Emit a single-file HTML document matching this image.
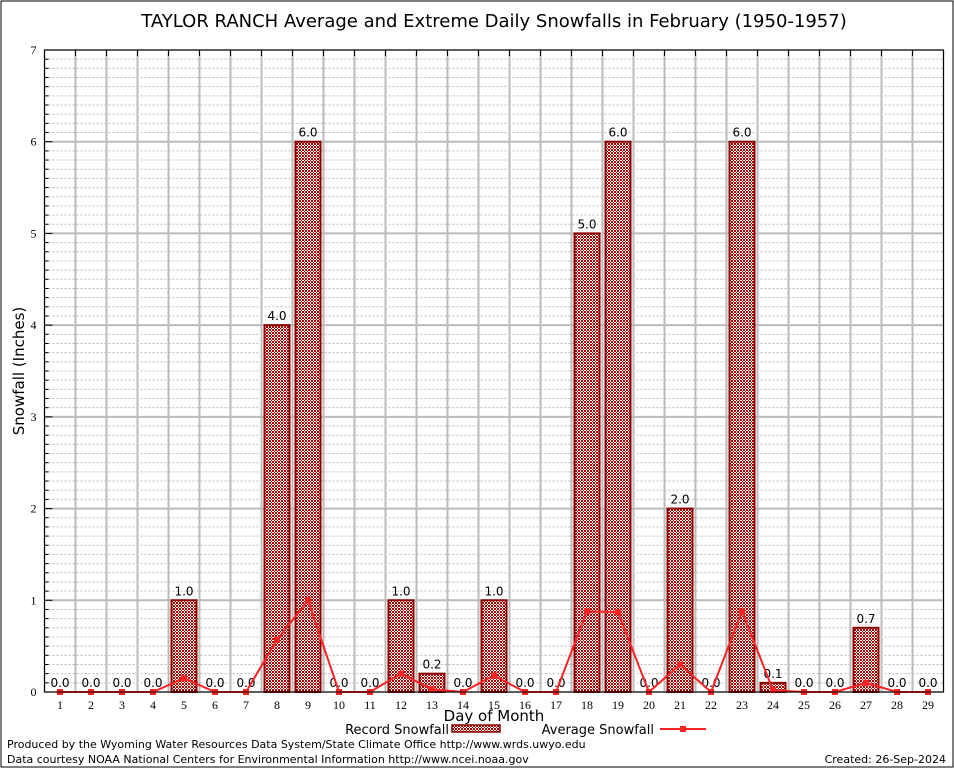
<!DOCTYPE html>
<html><head><meta charset="utf-8"><style>
body{margin:0;background:#fff;}
svg{display:block;font-family:"DejaVu Sans","Liberation Sans",sans-serif;}
</style></head><body>
<svg id="c" width="954" height="768" xmlns="http://www.w3.org/2000/svg">
<defs>
<pattern id="hatch" width="3" height="3" patternUnits="userSpaceOnUse">
<rect width="3" height="3" fill="#fff"/>
<rect x="0" y="0" width="1" height="1" fill="#a00"/><rect x="2" y="0" width="1" height="1" fill="#a00"/>
<rect x="1" y="1" width="1" height="1" fill="#a00"/>
<rect x="0" y="2" width="1" height="1" fill="#a00"/><rect x="2" y="2" width="1" height="1" fill="#a00"/>
</pattern>
</defs>
<rect x="1" y="1" width="952" height="766" fill="#fff" stroke="#000"/>
<text x="494" y="27" text-anchor="middle" font-size="18">TAYLOR RANCH Average and Extreme Daily Snowfalls in February (1950-1957)</text>
<g id="grid"></g>
<g id="bars"></g>
<g id="line"></g>
<g id="axes"></g>
<text x="24" y="371" text-anchor="middle" font-size="15" transform="rotate(-90 24 371)">Snowfall (Inches)</text>
<text x="494" y="721" text-anchor="middle" font-size="15">Day of Month</text>
<g>
<text x="449" y="734" text-anchor="end" font-size="13">Record Snowfall</text>
<rect x="452" y="725" width="48" height="7" fill="url(#hatch)" stroke="#8b0000" stroke-width="1.5"/>
<text x="654" y="734" text-anchor="end" font-size="13">Average Snowfall</text>
<line x1="660" y1="729" x2="706" y2="729" stroke="#f22" stroke-width="2"/>
<rect x="680" y="726" width="6" height="6" fill="#f22"/>
</g>
<text x="7" y="748" font-size="11">Produced by the Wyoming Water Resources Data System/State Climate Office http://www.wrds.uwyo.edu</text>
<text x="7" y="763" font-size="11">Data courtesy NOAA National Centers for Environmental Information http://www.ncei.noaa.gov</text>
<text x="946" y="763" text-anchor="end" font-size="11">Created: 26-Sep-2024</text>
</svg>
<script>
const days=[1,2,3,4,5,6,7,8,9,10,11,12,13,14,15,16,17,18,19,20,21,22,23,24,25,26,27,28,29];
const recordVals=[0,0,0,0,1.0,0,0,4.0,6.0,0,0,1.0,0.2,0,1.0,0,0,5.0,6.0,0,2.0,0,6.0,0.1,0,0,0.7,0,0];
const avgVals=[0,0,0,0,0.15,0,0,0.57,1.0,0,0,0.2,0.03,0,0.18,0,0,0.88,0.87,0,0.3,0,0.88,0.02,0,0,0.1,0,0];
const yTicks=[0,1,2,3,4,5,6,7];
const NS="http://www.w3.org/2000/svg";
const L=44.5,R=943.5,T=50,B=692,yMax=7;
const bw=(R-L)/days.length;
const xS=d=>L+(d-0.5)*bw;
const yS=v=>B-v/yMax*(B-T);
function mk(tag,attrs,parent,txt){const e=document.createElementNS(NS,tag);for(const k in attrs)e.setAttribute(k,attrs[k]);if(txt!==undefined)e.textContent=txt;parent.appendChild(e);return e;}
const grid=document.getElementById('grid'),bars=document.getElementById('bars'),line=document.getElementById('line'),axes=document.getElementById('axes');
for(let v=0;v<=yMax*10;v++){
  const y=yS(v/10);
  if(v%10===0){const g=mk('line',{x1:L,x2:R,y1:y,y2:y,stroke:'#bbb','stroke-width':2},grid);
    }
  else{const g=mk('line',{x1:L,x2:R,y1:y,y2:y,stroke:'#bbb','stroke-width':1,'stroke-dasharray':'2,2'},grid);
    
    const mt=mk('line',{x1:L,x2:L+4,y1:y,y2:y,stroke:'#000'},axes);
    }
}
for(let i=0;i<=days.length;i++){
  const x=L+i*bw;
  const g=mk('line',{x1:x,x2:x,y1:T,y2:B,stroke:'#bbb','stroke-width':2},grid);
  
  const tk=mk('line',{x1:x,x2:x,y1:T,y2:T+6,stroke:'#000'},axes);
  
}
const frame=mk('rect',{x:L,y:T,width:R-L,height:B-T,fill:'none',stroke:'#000'},axes);

yTicks.forEach(t=>{
  const tx=mk('text',{x:L-8,y:yS(t)+4,'text-anchor':'end','font-size':12,'font-family':'Liberation Serif,serif'},axes,String(t));
  
  const tk=mk('line',{x1:L,x2:L+8,y1:yS(t),y2:yS(t),stroke:'#000'},axes);
  
});
days.forEach((d,i)=>{
  const x=xS(d);
  const tx=mk('text',{x:x,y:B+17,'text-anchor':'middle','font-size':12,'font-family':'Liberation Serif,serif'},axes,String(d));
  
  const v=recordVals[i];
  if(v>0){
    const r=mk('rect',{x:x-12.5,y:yS(v),width:25,height:B-yS(v),fill:'url(#hatch)',stroke:'#8b0000','stroke-width':2},bars);
    
  }
  const lb=mk('text',{x:x,y:yS(v)-5,'text-anchor':'middle','font-size':12},bars,v.toFixed(1));
  
});
const pts=days.map((d,i)=>xS(d)+','+yS(avgVals[i])).join(' ');
const pl=mk('polyline',{points:pts,fill:'none',stroke:'#f22','stroke-width':2},line);

days.forEach((d,i)=>{
  const p=mk('rect',{x:xS(d)-3,y:yS(avgVals[i])-3,width:6,height:6,fill:'#f22'},line);
  
});
</script>
</body></html>
